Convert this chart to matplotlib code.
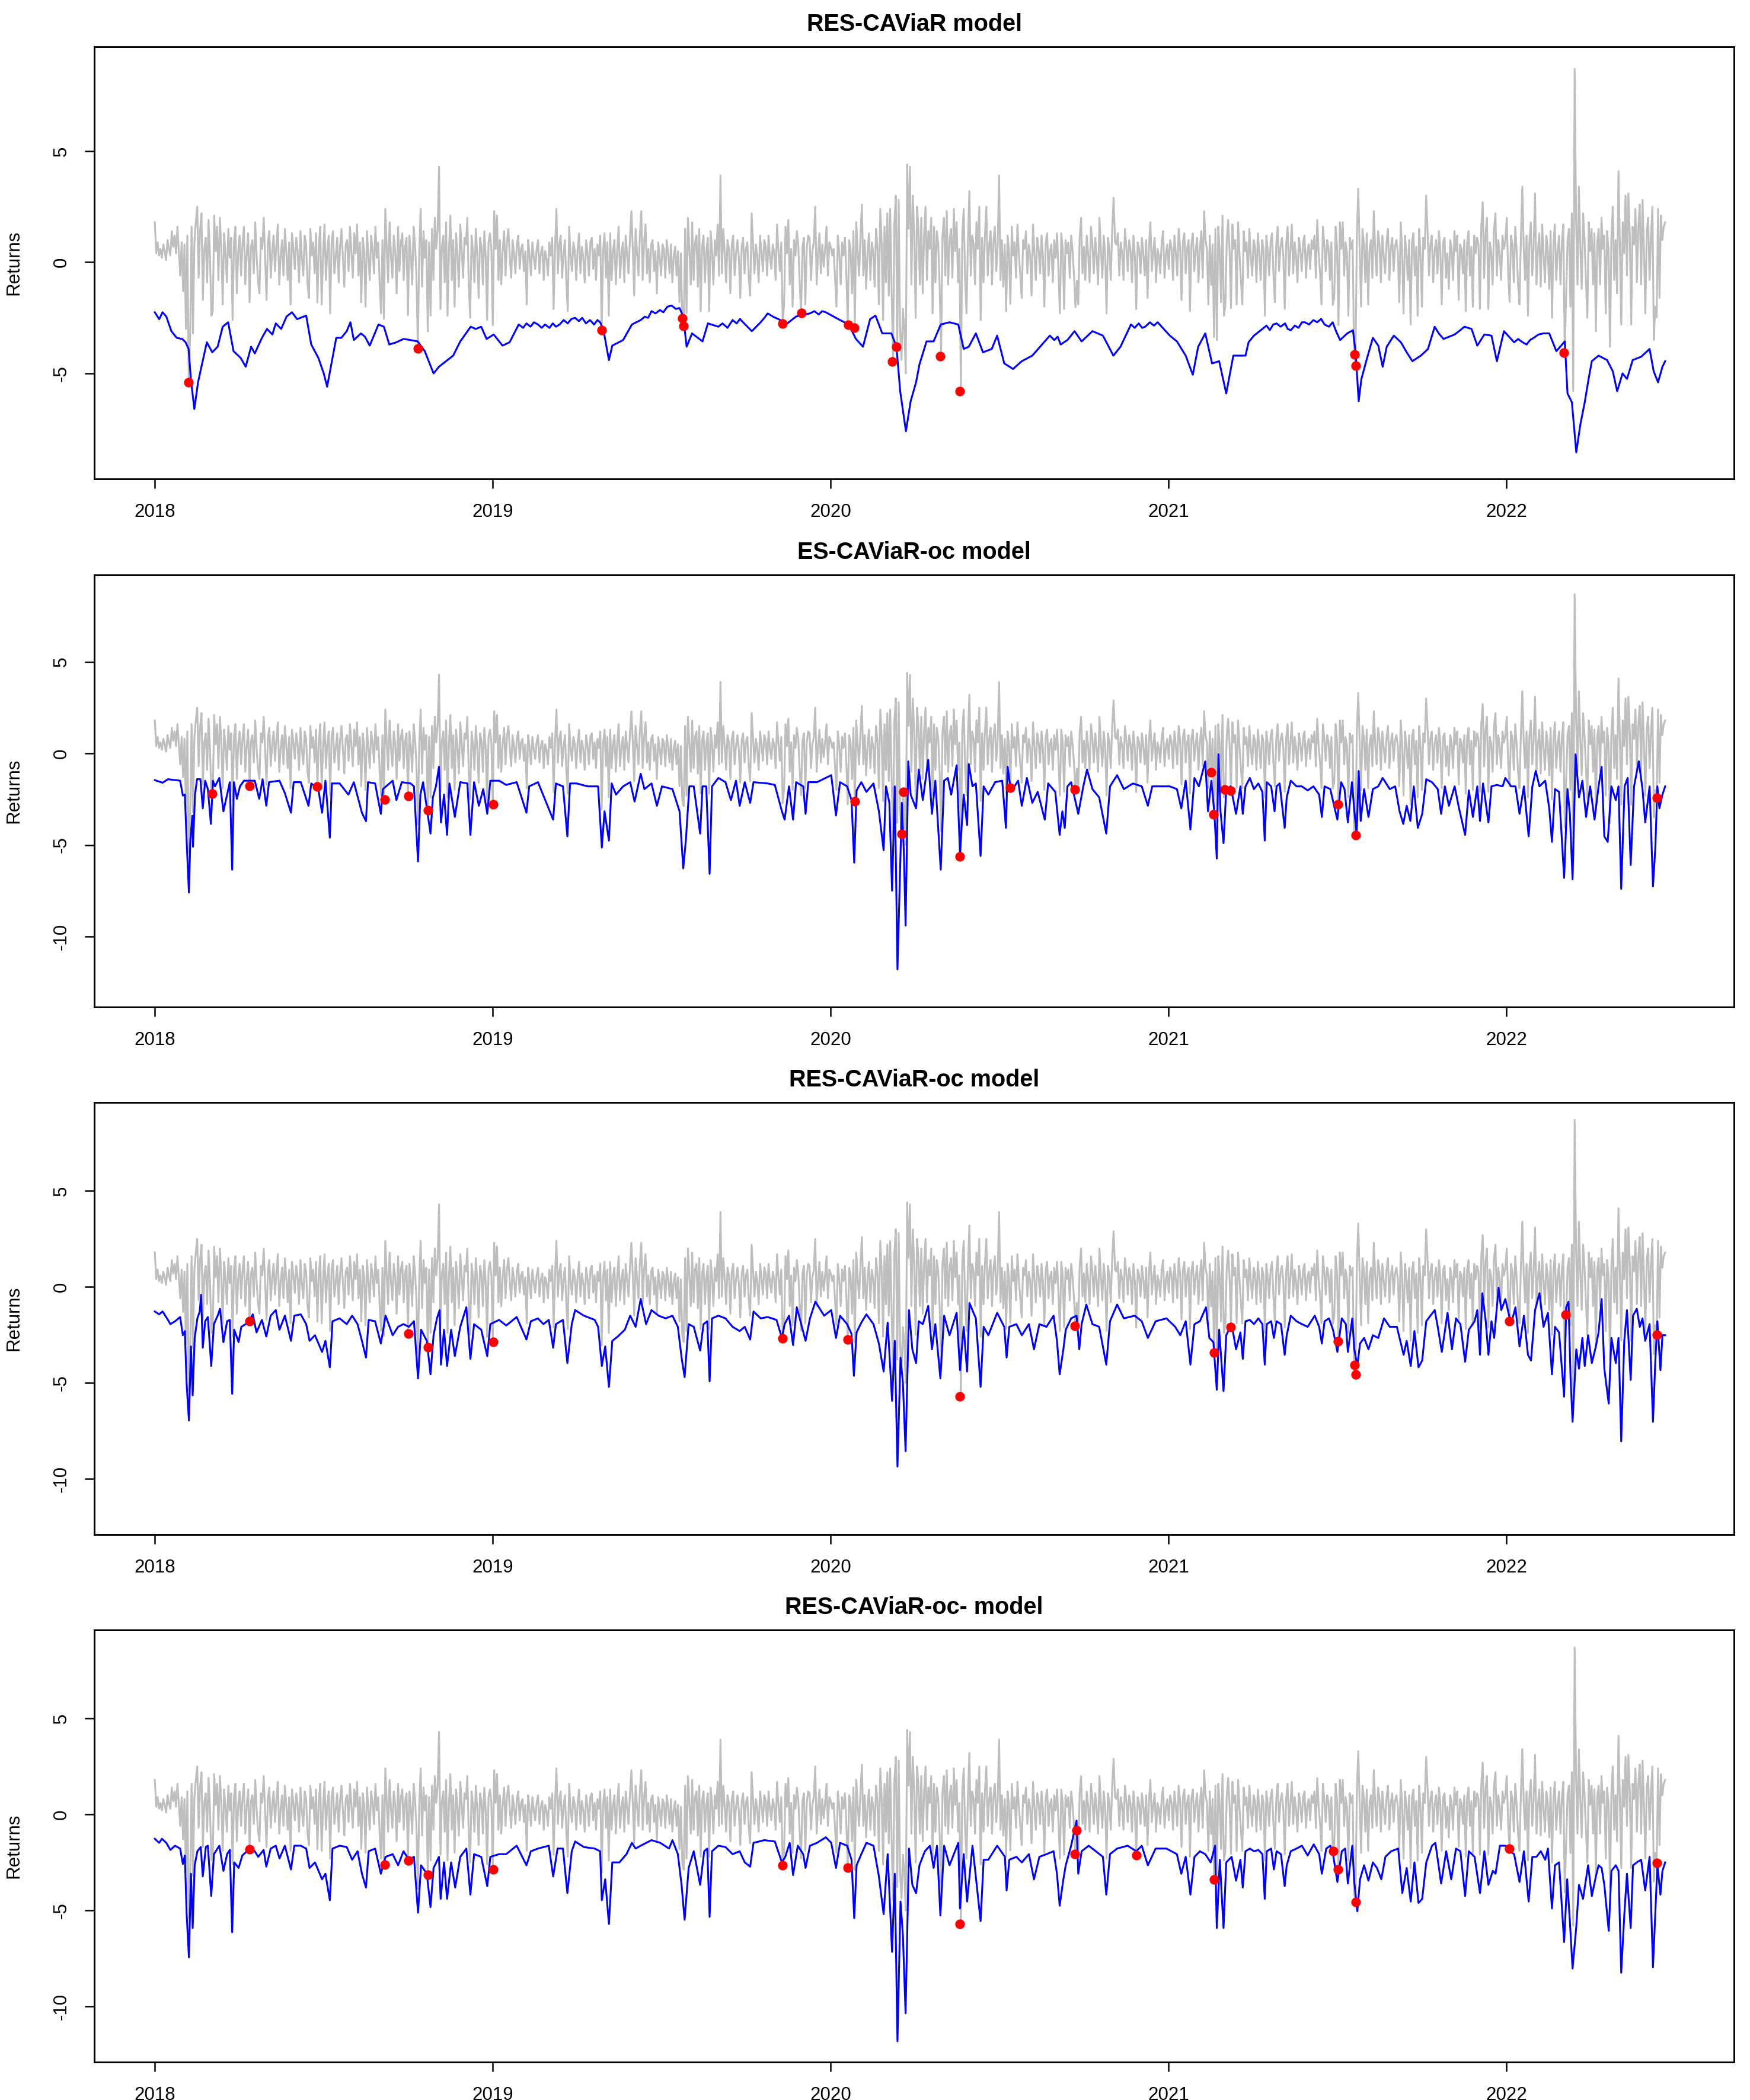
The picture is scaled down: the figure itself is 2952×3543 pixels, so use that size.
import numpy as np
import matplotlib
matplotlib.use('Agg')
import matplotlib.pyplot as plt

plt.rcParams['font.family'] = ['Liberation Sans', 'DejaVu Sans']
plt.rcParams['axes.unicode_minus'] = False

# daily returns (grey line), 2018-01-02 .. 2022-06-22
ret_2018 = [1.8, 0.4, 0.9, 0.3, 0.6, 0.2, 0.8, 0.5, 0.1, 1.0, 0.6, 0.3, 1.4, 0.7, 1.2, 0.4, 1.6, 0.5, -0.6, 0.9,
            -1.3, 0.8, -3.0, 1.2, -5.40, -3.3, 1.6, -3.2, 0.9, 1.8, 2.5, -0.7, 1.4, 2.2, -1.7, 0.6, 1.1, -0.9, 1.9, 0.3,
            -2.4, -2.20, 2.1, 0.5, 1.6, -0.8, 2.0, 0.7, -1.9, 1.3, 0.4, -0.9, 1.5, 0.2, 1.1, -2.6, 0.9, 1.6, -1.4, 0.5,
            1.2, -0.6, 0.8, 1.6, -1.0, 0.4, 1.3, -1.80, 0.7, 1.0, -0.5, 1.8, 0.3, -0.9, -1.4, 1.1, 0.6, 2.0, 0.2, -1.7,
            0.9, 1.4, -0.7, 0.5, 1.2, -0.4, 0.8, 1.7, -1.0, 0.3, 1.0, -0.6, 1.5, 0.4, -0.8, 0.9, -1.9, 1.3, 0.6, -0.3,
            1.1, 0.5, -0.9, 1.4, 0.2, -0.6, 1.2, 0.8, -1.0, -1.6, 1.5, 0.3, 0.9, -0.5, 1.3, -1.81, 0.7, 1.6, -1.9, 0.4,
            1.7, -0.8, 0.6, 1.2, -2.3, 0.9, 1.4, -0.5, 0.3, 1.1, -0.9, 0.7, 1.5, 0.2, -1.1, 0.8, 1.0, -0.4, 1.6, 0.5,
            -0.7, 1.3, 0.4, 1.7, -0.6, 0.9, -1.8, 1.1, 0.5, -2.0, 1.4, 0.3, -0.8, 1.2, 0.6, -0.5, 1.6, 0.2, 0.9, -1.0,
            -2.3, 1.0, -2.55, 2.4, 0.6, -0.9, 1.8, 0.3, -0.7, 1.2, 0.5, -1.4, 1.6, -0.4, 0.9, 1.3, -0.8, 0.7, 1.1, -2.38,
            1.2, 0.4, -1.0, 1.6, 0.8, -0.6, -3.88, 0.5, 2.4, -1.1, 1.4, 0.2, 1.0, -3.11, 0.9, -2.4, 1.5, -0.8, 2.0, 0.6,
            1.5, 4.3, -2.1, 0.7, 1.2, -0.9, 1.8, -2.4, 0.5, 2.1, -0.8, 1.0, -2.0, 1.3, 0.4, -1.1, 1.7, 0.6, -0.7, 1.1,
            0.8, 2.0, -1.0, -2.5, 1.2, 0.5, -0.9, 1.5, 0.3, -1.6, 1.1, 0.7, -1.0, 1.4, 0.2, -2.6, 0.9, 1.3, 0.6, -2.83]
ret_2019 = [2.3, 0.6, 2.1, -0.8, 1.0, -1.0, 0.5, 1.4, -0.6, 0.9, 1.5, 0.3, -0.7, 1.0, 0.4, -0.5, 0.8, 1.2, -0.3, 0.6,
            0.8, -0.4, 0.5, -1.9, 1.0, 0.3, -0.6, 0.9, 0.2, -0.3, 0.6, 1.0, -0.5, 0.4, 0.7, -0.8, 0.5, 0.2, -0.6, 0.9,
            0.3, 1.1, -2.1, 0.6, 2.4, -0.5, 0.8, 1.2, -0.7, 0.4, 1.0, -0.9, -2.2, 1.6, 0.3, -0.4, 0.9, 0.5, -0.8, 0.6,
            1.3, -0.5, 0.7, 0.2, -0.9, 1.0, 0.4, -0.6, 0.9, 1.1, -0.3, 0.6, -0.8, 0.8, 0.3, 1.2, -3.05, 0.5, 1.3, -0.7,
            0.9, -2.4, 1.3, -0.8, 0.5, 1.0, -1.0, 0.6, 1.6, -0.7, 0.4, 0.9, -0.9, 1.2, 0.3, -0.5, 1.1, 2.3, 0.6, -1.5,
            1.5, 0.4, -0.6, 1.2, 2.3, -0.8, 0.9, 1.7, -0.5, 0.6, -0.9, 0.8, 1.0, -0.4, 0.5, -1.4, 0.9, 0.3, -0.6, 0.8,
            0.6, -0.7, 1.0, 0.4, -0.5, 0.8, -0.9, 0.3, 0.7, -0.6, 0.5, -1.8, 0.4, -2.53, -2.88, 1.5, -2.3, 2.0, 0.6, -1.0,
            1.8, -0.8, 0.9, 1.2, -1.1, 1.5, -2.2, 0.7, 1.2, -0.9, 0.5, 1.1, -2.2, 1.4, 0.6, -1.0, 1.0, 0.3, 1.7, -0.6,
            3.9, -0.5, 1.5, 0.4, -0.9, 1.0, 0.6, -1.4, 0.8, 1.2, -0.6, 0.4, 1.0, 0.2, -1.6, 0.7, 1.1, -0.5, 0.6, 0.9,
            -0.7, -1.5, 2.2, 0.9, -0.5, 0.8, 0.3, -0.9, 1.2, 0.5, -0.4, 1.0, 0.7, -0.6, 1.2, 0.2, -0.3, 0.8, 0.4, -0.8,
            1.7, 0.5, -0.4, 0.9, -2.72, -1.9, 1.6, 0.4, 1.9, -1.0, 0.6, -2.0, 1.0, 0.3, 1.4, 0.8, -0.9, -2.28, 0.7, 1.1,
            -1.9, 0.6, 1.2, 1.1, -0.8, 0.5, 0.9, 2.5, -1.0, 0.4, 1.3, -0.5, 0.8, -0.2, 0.6, 1.6, -0.6, 0.9, 0.7, 0.3]
ret_2020 = [0.6, -0.7, -2.0, 1.2, 0.4, -1.0, 0.9, 0.3, 1.1, -0.5, -2.78, 1.0, 0.6, -1.4, 1.4, -2.90, 1.8, 0.5, -0.6, 1.2,
            2.6, -0.6, 1.0, -1.2, 0.5, 1.3, -0.8, 0.9, 0.4, -1.1, 1.5, 0.7, -1.9, 2.4, 0.8, -2.6, 1.6, -0.9, 2.2, -1.5,
            2.4, -1.2, -4.46, 1.8, 3.0, -3.79, 2.8, -3.0, -4.39, -2.10, -3.0, -5.0, 4.4, 1.5, 4.3, -1.0, 3.0, 1.2, -2.5, 2.5,
            1.5, -1.0, 2.0, -1.4, 1.2, 2.5, -0.8, 1.4, 0.6, 2.0, -2.3, 1.6, -0.9, 1.4, 0.8, -1.1, -4.24, 1.2, 2.0, -0.6,
            2.3, -1.0, 1.0, 1.5, -0.7, 2.4, 0.5, 1.8, -0.9, 0.6, -5.72, 1.3, 2.4, -0.8, -2.3, 1.0, 3.2, -0.6, 1.2, 0.8,
            -1.0, 1.8, 0.6, 2.5, -2.6, 1.1, -0.9, 1.2, 2.5, -0.6, 0.8, 1.4, -1.0, 0.9, 1.6, -0.4, 0.7, 3.9, -0.8, 1.0,
            -1.1, 0.8, -2.2, 1.2, 0.5, -1.87, 1.6, 0.3, 0.9, -0.7, 1.7, 0.4, -0.6, -1.6, 1.0, 0.6, 1.4, -0.5, 0.8, 0.3,
            -1.5, 1.7, 0.4, -0.8, 1.1, 0.6, -0.5, 1.2, 0.3, -2.0, 0.9, 1.3, -0.6, 0.5, 0.8, -0.9, 1.0, 0.2, 1.3, -0.4,
            -2.3, 1.3, 0.6, -2.1, 1.0, 0.4, 0.9, -0.7, 1.2, 0.5, -0.6, -2.02, -0.83, -1.9, 1.1, 2.0, -0.5, 0.7, -0.8, 1.2,
            0.4, -0.9, 1.6, 0.8, -0.5, 1.1, 0.3, -1.0, 2.0, 0.6, -0.7, 1.2, 0.4, -2.3, 1.1, 0.6, -0.8, 1.5, 2.9, 0.9,
            0.8, 1.3, -0.6, 0.9, 0.4, -0.8, 1.5, 0.7, -0.4, 1.0, 0.5, -0.9, 1.2, 0.3, -2.11, 0.9, 0.6, -0.5, 1.1, 0.4,
            -0.6, 1.0, -1.6, 0.7, 1.8, -0.4, 0.5, 1.1, -0.9, 0.6, 0.3, -0.5, 0.9, 1.4, -0.7, 0.4, 0.8, -0.3, 1.0, 0.6]
ret_2021 = [-0.8, 1.2, 0.4, -0.6, 1.5, 0.7, -1.7, 0.9, 1.3, -0.5, 0.6, 1.0, -2.2, 0.8, 1.3, -0.4, 0.5, 1.1, -0.9, 0.6,
            1.4, -0.7, 2.3, 1.0, 0.6, -1.9, 1.2, -1.02, 0.8, -3.37, 1.5, -3.5, 1.6, 0.5, -1.8, 2.1, -2.4, -1.96, 1.0, 1.9,
            0.5, -2.06, 1.7, 0.6, 1.0, -1.9, 1.8, 0.4, -0.8, -1.9, 1.4, 0.5, 0.9, -0.7, 1.5, 0.3, -0.6, 1.0, 0.7, -0.9,
            1.3, 0.4, -0.8, 1.0, 0.6, -2.4, 1.2, 0.5, -0.6, 0.9, 1.3, -0.5, -1.8, 0.8, 1.6, -0.4, 0.7, 1.1, 0.3, -2.1,
            0.8, 1.6, -0.6, 0.5, 1.7, -0.5, 0.9, 0.3, -0.9, 1.1, 0.6, -0.4, 0.9, 1.2, -0.7, 0.5, 0.8, -0.3, 1.0, 0.6,
            1.2, -0.7, 1.9, 0.4, -0.5, -1.9, 1.6, 0.8, -0.4, 1.0, 0.6, -0.8, 0.9, -1.92, -1.6, 1.6, 0.7, -2.83, 1.8, 0.6,
            1.8, -0.6, 0.9, 0.4, -2.4, 1.1, 0.6, 1.0, -4.10, -4.58, 1.2, 3.3, 0.5, -2.0, 1.5, 0.8, -0.9, 1.3, -1.9, 0.6,
            1.0, -0.7, 2.3, 0.5, -0.6, 1.4, 0.8, -0.9, 1.2, 0.3, -0.5, 0.9, 1.5, -0.8, 0.6, 1.1, -0.4, 0.7, 1.0, 0.4,
            -1.8, 1.8, 0.6, -2.3, 1.2, 0.5, -0.8, 1.0, -2.8, 0.9, 1.3, -0.6, 0.7, -2.4, 1.5, 0.4, -2.0, 1.1, 0.6, 3.0,
            1.4, -0.6, 0.8, 1.2, -0.9, 0.5, 1.0, -0.5, 1.4, 0.6, -1.9, 0.9, 1.1, -0.7, 0.4, -1.2, 1.0, 0.6, -0.8, 1.4,
            0.5, 1.2, -1.7, 0.8, 0.6, -0.5, 1.0, -2.2, 0.9, 1.4, -0.6, 0.7, -2.0, 1.2, 0.4, 1.1, 0.8, -2.1, 1.6, 2.7,
            -0.7, 1.3, 2.0, -2.1, 0.9, 0.5, -1.0, 1.5, 2.2, -0.6, 1.0, 0.4, -0.8, 1.2, 0.6, 1.0, 2.0, -0.5, -1.79, 1.2]
ret_2022 = [0.8, -0.9, 1.6, 0.5, -1.0, -1.9, 1.1, 3.4, 0.6, -0.8, 1.2, -2.4, 0.9, 1.8, -0.6, 0.7, 3.1, -1.0, 0.5, 1.3,
            -1.1, 1.7, 0.4, -0.9, 1.2, 0.6, -1.2, 1.4, -2.5, 0.8, 1.7, -0.8, 0.5, 1.2, -1.0, 0.9, 1.7, -4.06, -1.46, 1.0,
            1.5, -2.0, 2.2, -5.8, 8.7, 2.0, -1.0, 3.4, 0.8, -1.2, 2.2, 1.0, -0.8, -2.5, 1.8, 0.5, 1.5, -1.0, 1.3, -3.1,
            0.9, 1.5, -1.0, 2.0, 0.6, 1.2, -2.3, 1.4, 0.5, -3.8, 1.1, 2.5, -0.8, 1.0, -1.4, 4.1, 0.7, -2.8, 1.8, 0.4,
            3.0, -0.6, 3.1, 1.2, -2.8, 1.6, 0.8, 2.4, -0.9, 1.5, 2.6, -1.0, 2.8, 0.6, -2.3, 1.4, 2.0, -0.8, 1.2, 2.5,
            -3.5, -2.0, -2.48, 2.4, -1.6, 2.1, 1.0, 1.6, 1.8]

# VaR forecasts (decimal year, value)
var_res = [(2018.000, -2.25), (2018.013, -2.56), (2018.023, -2.25), (2018.034, -2.44), (2018.049, -3.10),
           (2018.065, -3.40), (2018.081, -3.45), (2018.091, -3.60), (2018.100, -3.90), (2018.107, -5.30),
           (2018.117, -6.60), (2018.128, -5.40), (2018.138, -4.70), (2018.154, -3.60), (2018.170, -4.05),
           (2018.186, -3.80), (2018.201, -2.90), (2018.217, -2.70), (2018.233, -4.00), (2018.254, -4.30),
           (2018.269, -4.70), (2018.285, -3.80), (2018.296, -4.10), (2018.317, -3.40), (2018.332, -3.00),
           (2018.348, -3.25), (2018.358, -2.75), (2018.374, -3.00), (2018.390, -2.44), (2018.406, -2.25),
           (2018.421, -2.56), (2018.448, -2.40), (2018.463, -3.70), (2018.484, -4.30), (2018.500, -5.00),
           (2018.510, -5.60), (2018.521, -4.70), (2018.537, -3.40), (2018.552, -3.40), (2018.568, -3.10),
           (2018.579, -2.70), (2018.589, -3.50), (2018.610, -3.20), (2018.622, -3.35), (2018.636, -3.75),
           (2018.662, -2.80), (2018.678, -2.90), (2018.694, -3.70), (2018.715, -3.60), (2018.736, -3.45),
           (2018.757, -3.50), (2018.778, -3.56), (2018.799, -4.00), (2018.825, -5.00), (2018.841, -4.70),
           (2018.862, -4.45), (2018.883, -4.20), (2018.904, -3.56), (2018.935, -2.90), (2018.950, -3.00),
           (2018.966, -2.90), (2018.982, -3.45), (2019.003, -3.25), (2019.029, -3.75), (2019.050, -3.60),
           (2019.077, -2.80), (2019.090, -2.95), (2019.100, -2.75), (2019.112, -2.90), (2019.122, -2.70),
           (2019.134, -2.80), (2019.145, -2.95), (2019.155, -2.80), (2019.168, -2.95), (2019.178, -2.75),
           (2019.187, -2.90), (2019.198, -2.80), (2019.210, -2.60), (2019.222, -2.75), (2019.233, -2.55),
           (2019.244, -2.50), (2019.255, -2.65), (2019.265, -2.50), (2019.276, -2.75), (2019.288, -2.60),
           (2019.300, -2.80), (2019.310, -2.60), (2019.318, -2.70), (2019.328, -3.06), (2019.344, -4.40),
           (2019.354, -3.75), (2019.386, -3.50), (2019.412, -2.80), (2019.438, -2.60), (2019.450, -2.45),
           (2019.460, -2.50), (2019.470, -2.20), (2019.482, -2.30), (2019.495, -2.15), (2019.505, -2.25),
           (2019.517, -2.00), (2019.530, -1.95), (2019.542, -2.10), (2019.553, -2.06), (2019.564, -2.44),
           (2019.574, -3.80), (2019.590, -3.20), (2019.621, -3.56), (2019.637, -2.75), (2019.668, -2.90),
           (2019.680, -2.75), (2019.695, -2.95), (2019.710, -2.60), (2019.722, -2.75), (2019.732, -2.55),
           (2019.741, -2.70), (2019.767, -3.10), (2019.793, -2.70), (2019.804, -2.50), (2019.814, -2.30),
           (2019.830, -2.45), (2019.846, -2.56), (2019.872, -2.75), (2019.898, -2.44), (2019.939, -2.30),
           (2019.952, -2.20), (2019.965, -2.35), (2019.975, -2.20), (2019.986, -2.25), (2020.023, -2.56),
           (2020.054, -2.80), (2020.075, -3.45), (2020.096, -3.80), (2020.117, -2.56), (2020.133, -2.40),
           (2020.153, -3.20), (2020.180, -3.20), (2020.195, -3.80), (2020.206, -5.80), (2020.223, -7.60),
           (2020.237, -6.25), (2020.253, -5.40), (2020.263, -4.60), (2020.284, -3.56), (2020.305, -3.56),
           (2020.326, -2.80), (2020.352, -2.70), (2020.378, -2.80), (2020.394, -3.90), (2020.409, -3.80),
           (2020.430, -3.20), (2020.451, -4.05), (2020.477, -3.90), (2020.493, -3.30), (2020.514, -4.55),
           (2020.540, -4.80), (2020.566, -4.45), (2020.597, -4.20), (2020.623, -3.75), (2020.649, -3.30),
           (2020.662, -3.50), (2020.672, -3.35), (2020.681, -3.70), (2020.701, -3.50), (2020.722, -3.10),
           (2020.743, -3.56), (2020.775, -3.10), (2020.806, -3.30), (2020.837, -4.20), (2020.858, -3.80),
           (2020.889, -2.80), (2020.900, -2.95), (2020.912, -2.75), (2020.922, -2.95), (2020.931, -2.90),
           (2020.945, -2.70), (2020.957, -2.85), (2020.968, -2.70), (2021.004, -3.30), (2021.025, -3.56),
           (2021.051, -4.20), (2021.072, -5.06), (2021.088, -3.80), (2021.109, -3.20), (2021.129, -4.55),
           (2021.150, -4.45), (2021.171, -5.90), (2021.192, -4.20), (2021.228, -4.20), (2021.237, -3.60),
           (2021.253, -3.30), (2021.278, -3.00), (2021.290, -2.85), (2021.300, -3.05), (2021.310, -2.80),
           (2021.320, -2.75), (2021.332, -2.90), (2021.345, -2.75), (2021.353, -3.00), (2021.362, -3.06),
           (2021.374, -2.85), (2021.385, -2.95), (2021.395, -2.70), (2021.404, -2.70), (2021.416, -2.80),
           (2021.429, -2.60), (2021.440, -2.70), (2021.452, -2.55), (2021.462, -2.80), (2021.475, -2.90),
           (2021.486, -2.70), (2021.496, -3.10), (2021.508, -3.50), (2021.529, -3.20), (2021.546, -3.06),
           (2021.554, -4.06), (2021.563, -6.25), (2021.571, -5.25), (2021.588, -4.30), (2021.605, -3.40),
           (2021.621, -3.75), (2021.634, -4.70), (2021.646, -3.80), (2021.667, -3.30), (2021.688, -3.60),
           (2021.705, -4.05), (2021.722, -4.45), (2021.747, -4.20), (2021.768, -3.90), (2021.788, -2.90),
           (2021.800, -3.20), (2021.814, -3.45), (2021.847, -3.25), (2021.860, -3.10), (2021.876, -2.90),
           (2021.897, -3.00), (2021.914, -3.75), (2021.935, -3.25), (2021.956, -3.30), (2021.972, -4.45),
           (2021.993, -3.10), (2022.023, -3.60), (2022.035, -3.45), (2022.048, -3.60), (2022.060, -3.70),
           (2022.070, -3.50), (2022.081, -3.40), (2022.095, -3.25), (2022.110, -3.20), (2022.127, -3.20),
           (2022.148, -4.00), (2022.173, -3.56), (2022.181, -5.90), (2022.194, -6.30), (2022.207, -8.55),
           (2022.219, -7.30), (2022.232, -6.30), (2022.244, -5.20), (2022.253, -4.45), (2022.273, -4.20),
           (2022.298, -4.40), (2022.315, -4.90), (2022.328, -5.80), (2022.344, -5.00), (2022.357, -5.25),
           (2022.374, -4.40), (2022.399, -4.25), (2022.424, -3.90), (2022.436, -4.90), (2022.449, -5.40),
           (2022.462, -4.70), (2022.470, -4.45)]

var_es = [(2018.000, -1.46), (2018.023, -1.60), (2018.039, -1.41), (2018.075, -1.49), (2018.083, -2.30),
          (2018.089, -2.25), (2018.094, -4.70), (2018.101, -7.60), (2018.105, -4.80), (2018.111, -3.40),
          (2018.113, -5.10), (2018.119, -2.25), (2018.125, -1.41), (2018.135, -1.41), (2018.142, -3.00),
          (2018.149, -1.49), (2018.157, -1.95), (2018.166, -3.85), (2018.172, -1.49), (2018.178, -1.80),
          (2018.191, -1.34), (2018.203, -3.16), (2018.214, -2.25), (2018.222, -1.57), (2018.229, -6.35),
          (2018.234, -1.57), (2018.243, -2.48), (2018.252, -1.80), (2018.264, -1.49), (2018.296, -1.49),
          (2018.309, -2.48), (2018.319, -1.41), (2018.330, -2.86), (2018.338, -1.57), (2018.369, -1.49),
          (2018.385, -2.17), (2018.403, -3.24), (2018.411, -1.57), (2018.432, -1.57), (2018.455, -2.86),
          (2018.463, -1.64), (2018.484, -1.95), (2018.495, -3.24), (2018.505, -1.49), (2018.518, -4.60),
          (2018.524, -1.64), (2018.547, -1.64), (2018.573, -2.25), (2018.589, -1.57), (2018.613, -3.24),
          (2018.625, -3.70), (2018.631, -1.57), (2018.652, -1.64), (2018.669, -3.30), (2018.675, -1.95),
          (2018.704, -1.49), (2018.715, -2.55), (2018.731, -1.57), (2018.757, -1.64), (2018.767, -1.80),
          (2018.779, -5.90), (2018.786, -2.25), (2018.794, -1.57), (2018.816, -4.38), (2018.823, -2.40),
          (2018.832, -1.80), (2018.841, -0.73), (2018.847, -3.77), (2018.856, -2.25), (2018.865, -4.45),
          (2018.872, -1.64), (2018.888, -3.47), (2018.904, -1.57), (2018.925, -1.64), (2018.934, -4.45),
          (2018.945, -1.57), (2018.959, -2.86), (2018.972, -1.95), (2018.984, -3.30), (2018.993, -1.49),
          (2019.019, -1.49), (2019.040, -1.72), (2019.071, -1.57), (2019.100, -3.24), (2019.108, -1.80),
          (2019.134, -1.57), (2019.179, -3.62), (2019.187, -1.64), (2019.208, -1.80), (2019.221, -4.53),
          (2019.229, -1.64), (2019.249, -1.64), (2019.281, -1.80), (2019.312, -1.80), (2019.323, -5.14),
          (2019.331, -3.16), (2019.344, -4.76), (2019.352, -1.64), (2019.365, -2.25), (2019.386, -1.80),
          (2019.407, -1.57), (2019.420, -2.63), (2019.438, -1.11), (2019.449, -1.95), (2019.470, -1.64),
          (2019.486, -2.86), (2019.501, -1.80), (2019.532, -1.95), (2019.553, -3.16), (2019.564, -6.28),
          (2019.572, -4.68), (2019.582, -1.80), (2019.595, -1.80), (2019.614, -4.38), (2019.621, -1.80),
          (2019.632, -1.80), (2019.642, -6.58), (2019.649, -1.80), (2019.668, -1.34), (2019.689, -1.57),
          (2019.705, -2.55), (2019.720, -1.49), (2019.731, -2.86), (2019.746, -1.57), (2019.762, -2.70),
          (2019.772, -1.57), (2019.814, -1.64), (2019.835, -1.72), (2019.856, -3.16), (2019.864, -3.62),
          (2019.877, -1.80), (2019.889, -3.62), (2019.898, -1.57), (2019.919, -1.80), (2019.926, -3.30),
          (2019.934, -1.57), (2019.960, -1.57), (2020.002, -1.19), (2020.016, -3.39), (2020.028, -1.57),
          (2020.049, -1.80), (2020.062, -2.55), (2020.070, -5.97), (2020.077, -2.02), (2020.091, -1.57),
          (2020.106, -2.10), (2020.127, -1.64), (2020.143, -3.16), (2020.157, -5.29), (2020.164, -1.80),
          (2020.174, -2.70), (2020.182, -7.50), (2020.190, -1.80), (2020.198, -11.80), (2020.205, -6.96),
          (2020.211, -2.70), (2020.217, -5.44), (2020.222, -9.40), (2020.230, -0.43), (2020.237, -2.25),
          (2020.253, -3.00), (2020.261, -0.88), (2020.273, -2.55), (2020.289, -0.35), (2020.300, -3.30),
          (2020.310, -1.49), (2020.326, -6.35), (2020.336, -1.49), (2020.347, -1.34), (2020.357, -2.25),
          (2020.373, -0.65), (2020.383, -5.44), (2020.394, -2.25), (2020.404, -3.92), (2020.409, -0.58),
          (2020.420, -1.80), (2020.430, -1.64), (2020.444, -5.60), (2020.453, -1.80), (2020.467, -2.25),
          (2020.487, -1.57), (2020.508, -1.49), (2020.519, -4.07), (2020.524, -0.73), (2020.534, -2.10),
          (2020.555, -1.49), (2020.566, -2.86), (2020.581, -1.34), (2020.597, -2.70), (2020.613, -2.10),
          (2020.634, -3.62), (2020.644, -1.64), (2020.665, -2.10), (2020.678, -4.45), (2020.686, -3.16),
          (2020.693, -4.07), (2020.701, -1.80), (2020.712, -1.57), (2020.733, -3.30), (2020.748, -1.80),
          (2020.759, -0.88), (2020.775, -1.95), (2020.795, -2.40), (2020.816, -4.38), (2020.827, -1.80),
          (2020.848, -1.19), (2020.868, -1.95), (2020.895, -1.64), (2020.921, -1.80), (2020.939, -2.86),
          (2020.952, -1.80), (2021.004, -1.80), (2021.025, -1.95), (2021.038, -3.00), (2021.051, -1.49),
          (2021.065, -4.15), (2021.077, -1.34), (2021.090, -1.80), (2021.109, -0.43), (2021.117, -3.16),
          (2021.127, -1.49), (2021.136, -3.30), (2021.143, -5.74), (2021.148, -0.05), (2021.154, -3.16),
          (2021.163, -4.90), (2021.171, -1.95), (2021.184, -1.80), (2021.200, -3.30), (2021.213, -1.80),
          (2021.220, -3.30), (2021.228, -1.80), (2021.241, -1.34), (2021.253, -1.95), (2021.266, -1.64),
          (2021.278, -2.10), (2021.285, -4.76), (2021.291, -1.57), (2021.304, -1.80), (2021.314, -3.16),
          (2021.320, -1.80), (2021.329, -1.64), (2021.344, -4.07), (2021.350, -2.40), (2021.362, -1.49),
          (2021.379, -1.80), (2021.395, -1.80), (2021.412, -2.02), (2021.429, -1.80), (2021.446, -2.25),
          (2021.454, -3.47), (2021.462, -1.80), (2021.479, -1.95), (2021.492, -3.00), (2021.500, -3.62),
          (2021.511, -1.57), (2021.521, -1.95), (2021.531, -3.77), (2021.543, -1.57), (2021.551, -3.30),
          (2021.557, -4.38), (2021.563, -0.96), (2021.569, -3.69), (2021.579, -1.95), (2021.592, -3.47),
          (2021.605, -1.95), (2021.621, -1.80), (2021.634, -1.34), (2021.655, -1.95), (2021.671, -1.80),
          (2021.684, -3.16), (2021.695, -3.85), (2021.705, -2.86), (2021.716, -3.69), (2021.726, -1.80),
          (2021.738, -4.07), (2021.751, -3.30), (2021.763, -1.41), (2021.780, -1.57), (2021.797, -1.95),
          (2021.807, -3.30), (2021.818, -1.80), (2021.830, -2.86), (2021.847, -1.80), (2021.860, -3.00),
          (2021.878, -4.45), (2021.889, -2.02), (2021.901, -3.47), (2021.914, -1.80), (2021.922, -3.69),
          (2021.931, -1.64), (2021.947, -3.77), (2021.956, -1.80), (2021.972, -1.72), (2021.989, -1.80),
          (2021.997, -1.34), (2022.014, -1.80), (2022.027, -1.80), (2022.039, -3.30), (2022.052, -1.80),
          (2022.066, -4.53), (2022.077, -1.80), (2022.087, -0.96), (2022.098, -1.80), (2022.115, -1.49),
          (2022.127, -3.00), (2022.135, -4.83), (2022.144, -1.95), (2022.156, -2.10), (2022.171, -6.80),
          (2022.181, -1.95), (2022.188, -3.30), (2022.196, -6.88), (2022.205, -0.05), (2022.215, -2.40),
          (2022.225, -1.49), (2022.236, -3.47), (2022.248, -1.80), (2022.261, -3.62), (2022.273, -1.80),
          (2022.282, -0.73), (2022.290, -4.53), (2022.300, -4.83), (2022.311, -1.80), (2022.324, -2.55),
          (2022.332, -1.80), (2022.340, -7.40), (2022.350, -1.80), (2022.359, -1.34), (2022.368, -6.10),
          (2022.378, -1.80), (2022.392, -0.43), (2022.403, -1.95), (2022.411, -3.77), (2022.424, -1.80),
          (2022.434, -7.26), (2022.441, -5.14), (2022.447, -1.80), (2022.453, -3.00), (2022.462, -2.25),
          (2022.470, -1.80)]

var_oc = [(2018.000, -1.28), (2018.013, -1.43), (2018.023, -1.28), (2018.039, -1.72), (2018.046, -1.94),
          (2018.060, -1.79), (2018.075, -1.57), (2018.083, -2.52), (2018.089, -2.30), (2018.094, -5.00),
          (2018.101, -6.96), (2018.107, -3.10), (2018.112, -5.65), (2018.118, -2.66), (2018.126, -1.64),
          (2018.133, -1.28), (2018.137, -0.41), (2018.142, -3.17), (2018.149, -1.79), (2018.157, -1.57),
          (2018.167, -4.12), (2018.175, -1.94), (2018.186, -1.50), (2018.193, -1.14), (2018.203, -2.88),
          (2018.214, -1.79), (2018.222, -1.72), (2018.229, -5.57), (2018.235, -2.23), (2018.248, -2.88),
          (2018.256, -2.08), (2018.269, -1.94), (2018.281, -1.72), (2018.290, -1.43), (2018.301, -2.37),
          (2018.317, -1.72), (2018.330, -2.59), (2018.343, -1.50), (2018.358, -1.21), (2018.369, -2.23),
          (2018.385, -1.50), (2018.403, -2.81), (2018.413, -1.50), (2018.432, -1.43), (2018.448, -1.94),
          (2018.458, -2.81), (2018.474, -2.52), (2018.495, -3.39), (2018.505, -2.81), (2018.518, -4.19),
          (2018.526, -1.79), (2018.547, -1.64), (2018.568, -1.94), (2018.584, -1.50), (2018.600, -1.94),
          (2018.613, -2.81), (2018.625, -3.68), (2018.633, -1.72), (2018.652, -1.79), (2018.669, -2.95),
          (2018.683, -1.50), (2018.704, -2.52), (2018.720, -2.08), (2018.736, -1.94), (2018.752, -2.08),
          (2018.767, -1.79), (2018.779, -4.77), (2018.788, -2.23), (2018.805, -2.81), (2018.816, -4.56),
          (2018.825, -2.52), (2018.835, -1.64), (2018.843, -1.21), (2018.847, -4.05), (2018.856, -2.23),
          (2018.865, -4.12), (2018.877, -2.23), (2018.888, -3.61), (2018.904, -2.08), (2018.922, -1.06),
          (2018.934, -3.75), (2018.945, -1.94), (2018.966, -2.23), (2018.984, -3.61), (2018.993, -1.94),
          (2019.019, -1.72), (2019.040, -2.01), (2019.071, -1.57), (2019.100, -2.74), (2019.113, -1.79),
          (2019.134, -1.64), (2019.150, -1.94), (2019.166, -1.72), (2019.179, -3.17), (2019.187, -1.94),
          (2019.208, -1.72), (2019.221, -3.97), (2019.234, -1.94), (2019.244, -1.21), (2019.270, -1.50),
          (2019.302, -1.72), (2019.312, -2.08), (2019.323, -4.12), (2019.333, -3.10), (2019.344, -5.21),
          (2019.354, -2.81), (2019.370, -2.59), (2019.391, -2.23), (2019.407, -1.50), (2019.423, -2.08),
          (2019.438, -0.63), (2019.454, -1.94), (2019.470, -1.21), (2019.491, -1.50), (2019.512, -1.64),
          (2019.532, -1.50), (2019.548, -2.08), (2019.559, -3.68), (2019.568, -4.70), (2019.580, -1.94),
          (2019.595, -2.08), (2019.614, -3.32), (2019.624, -1.94), (2019.635, -1.79), (2019.642, -4.92),
          (2019.649, -1.64), (2019.668, -1.50), (2019.689, -1.64), (2019.710, -2.08), (2019.731, -2.30),
          (2019.746, -2.08), (2019.762, -2.74), (2019.772, -1.28), (2019.793, -1.64), (2019.814, -1.57),
          (2019.840, -1.72), (2019.856, -2.66), (2019.864, -1.94), (2019.877, -1.50), (2019.889, -3.03),
          (2019.900, -1.06), (2019.913, -1.94), (2019.926, -2.81), (2019.939, -1.64), (2019.955, -0.77),
          (2019.981, -1.50), (2020.002, -1.21), (2020.016, -2.66), (2020.028, -1.50), (2020.049, -1.94),
          (2020.062, -2.45), (2020.069, -4.63), (2020.077, -2.37), (2020.091, -1.86), (2020.106, -1.43),
          (2020.127, -1.94), (2020.143, -2.95), (2020.157, -4.41), (2020.169, -1.86), (2020.182, -5.94),
          (2020.190, -2.81), (2020.198, -9.36), (2020.207, -3.68), (2020.214, -4.99), (2020.222, -8.56),
          (2020.232, -1.21), (2020.242, -3.25), (2020.253, -3.97), (2020.261, -1.79), (2020.273, -1.94),
          (2020.289, -0.99), (2020.300, -3.25), (2020.310, -1.94), (2020.325, -4.77), (2020.336, -1.50),
          (2020.352, -2.52), (2020.373, -1.35), (2020.383, -4.34), (2020.394, -2.08), (2020.404, -4.41),
          (2020.411, -0.84), (2020.430, -1.64), (2020.444, -5.21), (2020.453, -2.08), (2020.467, -2.52),
          (2020.493, -1.35), (2020.514, -2.08), (2020.521, -3.68), (2020.529, -2.08), (2020.550, -1.94),
          (2020.566, -2.52), (2020.587, -1.94), (2020.602, -3.25), (2020.618, -1.94), (2020.639, -2.08),
          (2020.660, -1.50), (2020.670, -2.81), (2020.678, -4.56), (2020.689, -3.25), (2020.696, -2.23),
          (2020.712, -1.64), (2020.728, -1.50), (2020.736, -3.25), (2020.743, -1.94), (2020.757, -0.92),
          (2020.775, -1.94), (2020.795, -2.08), (2020.816, -4.05), (2020.827, -1.79), (2020.848, -0.92),
          (2020.868, -1.64), (2020.900, -1.50), (2020.921, -1.79), (2020.939, -2.66), (2020.962, -1.79),
          (2020.994, -1.64), (2021.020, -2.08), (2021.035, -2.52), (2021.051, -1.79), (2021.065, -4.05),
          (2021.077, -1.94), (2021.093, -1.79), (2021.111, -1.06), (2021.121, -2.66), (2021.133, -2.88),
          (2021.143, -5.36), (2021.150, -2.23), (2021.163, -5.43), (2021.171, -2.52), (2021.187, -1.94),
          (2021.200, -3.25), (2021.213, -2.37), (2021.220, -3.75), (2021.228, -1.79), (2021.241, -1.72),
          (2021.253, -1.94), (2021.266, -1.64), (2021.278, -1.94), (2021.285, -4.05), (2021.291, -1.94),
          (2021.304, -1.79), (2021.312, -2.66), (2021.320, -1.79), (2021.333, -1.94), (2021.344, -3.54),
          (2021.350, -2.52), (2021.362, -1.50), (2021.379, -1.79), (2021.395, -1.94), (2021.412, -2.08),
          (2021.433, -1.50), (2021.446, -2.08), (2021.454, -2.95), (2021.462, -1.79), (2021.475, -1.64),
          (2021.487, -2.23), (2021.500, -3.39), (2021.513, -1.64), (2021.525, -1.94), (2021.531, -3.39),
          (2021.544, -1.64), (2021.550, -3.25), (2021.559, -4.12), (2021.567, -2.95), (2021.579, -2.66),
          (2021.592, -3.25), (2021.605, -2.52), (2021.621, -2.66), (2021.638, -1.64), (2021.655, -2.08),
          (2021.676, -2.08), (2021.688, -2.95), (2021.696, -3.54), (2021.705, -2.81), (2021.717, -4.12),
          (2021.728, -2.30), (2021.740, -4.19), (2021.751, -3.83), (2021.763, -1.79), (2021.788, -1.21),
          (2021.797, -2.08), (2021.809, -3.39), (2021.826, -1.35), (2021.839, -3.25), (2021.851, -1.64),
          (2021.864, -1.94), (2021.878, -3.90), (2021.889, -2.23), (2021.906, -1.79), (2021.914, -1.21),
          (2021.922, -3.54), (2021.929, -0.33), (2021.939, -1.79), (2021.947, -3.54), (2021.956, -1.79),
          (2021.964, -2.66), (2021.977, -0.04), (2021.985, -1.21), (2021.997, -0.63), (2022.014, -1.94),
          (2022.027, -1.06), (2022.039, -3.10), (2022.052, -1.50), (2022.064, -3.54), (2022.073, -3.83),
          (2022.085, -1.21), (2022.098, -0.33), (2022.110, -2.08), (2022.123, -1.35), (2022.135, -4.56),
          (2022.144, -2.08), (2022.156, -2.37), (2022.171, -5.72), (2022.177, -1.06), (2022.184, -0.77),
          (2022.190, -4.70), (2022.196, -7.03), (2022.207, -3.25), (2022.215, -4.26), (2022.225, -2.66),
          (2022.232, -4.12), (2022.242, -2.52), (2022.253, -3.97), (2022.265, -3.10), (2022.273, -2.37),
          (2022.282, -0.63), (2022.290, -4.26), (2022.303, -6.08), (2022.311, -2.66), (2022.324, -3.97),
          (2022.332, -2.66), (2022.340, -8.05), (2022.349, -2.81), (2022.357, -1.21), (2022.368, -4.85),
          (2022.375, -1.50), (2022.386, -1.14), (2022.395, -2.08), (2022.403, -1.64), (2022.411, -2.81),
          (2022.424, -1.94), (2022.434, -7.03), (2022.441, -3.83), (2022.447, -1.79), (2022.456, -4.34),
          (2022.462, -2.52), (2022.470, -2.52)]

var_ocm = [(2018.000, -1.27), (2018.013, -1.48), (2018.021, -1.27), (2018.034, -1.48), (2018.046, -1.85),
           (2018.060, -1.63), (2018.075, -1.78), (2018.083, -2.58), (2018.089, -2.14), (2018.094, -5.12),
           (2018.101, -7.45), (2018.107, -3.09), (2018.112, -5.92), (2018.118, -2.65), (2018.126, -1.92),
           (2018.136, -1.70), (2018.142, -3.23), (2018.151, -1.70), (2018.157, -1.63), (2018.167, -4.25),
           (2018.175, -2.07), (2018.191, -1.63), (2018.203, -2.94), (2018.214, -2.07), (2018.222, -1.85),
           (2018.229, -6.14), (2018.235, -2.50), (2018.248, -2.79), (2018.259, -2.14), (2018.281, -1.78),
           (2018.296, -1.92), (2018.306, -2.21), (2018.322, -1.85), (2018.330, -2.72), (2018.343, -1.78),
           (2018.358, -1.63), (2018.369, -2.29), (2018.385, -1.63), (2018.403, -2.87), (2018.413, -1.63),
           (2018.432, -1.63), (2018.448, -1.78), (2018.458, -2.79), (2018.474, -2.50), (2018.495, -3.38),
           (2018.505, -3.09), (2018.518, -4.47), (2018.526, -1.78), (2018.547, -1.63), (2018.568, -1.70),
           (2018.584, -2.36), (2018.600, -1.92), (2018.613, -3.09), (2018.625, -3.81), (2018.633, -1.92),
           (2018.652, -1.78), (2018.669, -3.09), (2018.683, -2.21), (2018.704, -2.07), (2018.720, -2.65),
           (2018.736, -1.92), (2018.752, -2.36), (2018.767, -2.21), (2018.779, -5.12), (2018.788, -2.65),
           (2018.805, -3.09), (2018.816, -4.83), (2018.825, -2.79), (2018.841, -2.21), (2018.846, -4.40),
           (2018.856, -2.50), (2018.865, -4.40), (2018.877, -2.50), (2018.889, -3.81), (2018.904, -2.21),
           (2018.922, -1.78), (2018.934, -4.18), (2018.945, -2.07), (2018.966, -2.21), (2018.984, -3.74),
           (2018.993, -2.21), (2019.019, -2.07), (2019.040, -2.07), (2019.071, -1.63), (2019.100, -2.65),
           (2019.113, -1.92), (2019.134, -1.78), (2019.166, -1.63), (2019.179, -3.23), (2019.192, -1.78),
           (2019.208, -1.78), (2019.221, -4.10), (2019.234, -1.92), (2019.244, -1.41), (2019.270, -1.70),
           (2019.302, -1.78), (2019.318, -1.92), (2019.323, -4.47), (2019.333, -3.38), (2019.344, -5.71),
           (2019.354, -2.50), (2019.375, -2.50), (2019.396, -2.07), (2019.412, -1.48), (2019.423, -1.78),
           (2019.438, -1.63), (2019.470, -1.34), (2019.496, -1.48), (2019.522, -1.78), (2019.532, -1.34),
           (2019.548, -2.07), (2019.559, -3.67), (2019.568, -5.49), (2019.580, -2.79), (2019.595, -1.92),
           (2019.614, -3.67), (2019.626, -1.92), (2019.635, -1.78), (2019.642, -5.34), (2019.649, -1.92),
           (2019.668, -1.63), (2019.689, -1.70), (2019.710, -2.07), (2019.731, -1.92), (2019.746, -2.50),
           (2019.762, -2.72), (2019.772, -1.48), (2019.804, -1.34), (2019.835, -1.41), (2019.856, -2.50),
           (2019.866, -2.21), (2019.879, -1.48), (2019.889, -3.16), (2019.903, -1.63), (2019.919, -2.07),
           (2019.926, -2.79), (2019.939, -1.63), (2019.960, -1.48), (2019.986, -1.19), (2020.002, -1.48),
           (2020.016, -2.79), (2020.028, -1.48), (2020.049, -1.63), (2020.062, -2.36), (2020.070, -5.41),
           (2020.077, -2.65), (2020.091, -2.07), (2020.106, -1.48), (2020.127, -1.63), (2020.143, -3.23),
           (2020.157, -5.20), (2020.169, -2.07), (2020.182, -7.16), (2020.190, -3.09), (2020.198, -11.82),
           (2020.207, -4.54), (2020.214, -6.29), (2020.222, -10.36), (2020.232, -1.78), (2020.242, -3.67),
           (2020.253, -4.10), (2020.263, -2.65), (2020.279, -1.92), (2020.294, -1.63), (2020.305, -2.79),
           (2020.315, -1.63), (2020.325, -5.27), (2020.336, -1.63), (2020.352, -2.65), (2020.378, -1.48),
           (2020.383, -4.90), (2020.394, -2.07), (2020.404, -4.54), (2020.420, -1.63), (2020.444, -5.56),
           (2020.453, -2.36), (2020.467, -2.36), (2020.493, -1.63), (2020.516, -2.21), (2020.521, -3.96),
           (2020.529, -2.36), (2020.550, -2.21), (2020.566, -2.50), (2020.587, -2.07), (2020.602, -3.38),
           (2020.618, -2.21), (2020.639, -2.07), (2020.660, -1.92), (2020.670, -3.09), (2020.678, -4.76),
           (2020.689, -3.38), (2020.696, -2.65), (2020.712, -1.63), (2020.728, -0.32), (2020.733, -3.09),
           (2020.743, -1.92), (2020.764, -1.63), (2020.785, -1.92), (2020.806, -2.21), (2020.816, -4.18),
           (2020.827, -2.07), (2020.848, -1.78), (2020.879, -1.63), (2020.905, -1.92), (2020.921, -1.63),
           (2020.939, -2.65), (2020.962, -1.78), (2020.994, -1.78), (2021.025, -2.07), (2021.038, -3.09),
           (2021.051, -2.21), (2021.065, -4.18), (2021.077, -2.21), (2021.093, -1.92), (2021.109, -2.07),
           (2021.125, -2.50), (2021.138, -1.63), (2021.143, -5.92), (2021.152, -2.36), (2021.163, -5.92),
           (2021.171, -2.50), (2021.187, -2.21), (2021.200, -3.45), (2021.213, -2.36), (2021.220, -3.81),
           (2021.228, -1.92), (2021.241, -1.78), (2021.253, -1.92), (2021.266, -1.85), (2021.278, -2.07),
           (2021.285, -4.40), (2021.291, -1.92), (2021.304, -1.78), (2021.312, -2.87), (2021.320, -1.92),
           (2021.333, -2.07), (2021.344, -3.74), (2021.350, -2.65), (2021.362, -1.92), (2021.379, -1.78),
           (2021.395, -1.63), (2021.412, -2.14), (2021.430, -1.56), (2021.446, -2.07), (2021.454, -3.09),
           (2021.467, -1.78), (2021.479, -1.63), (2021.487, -2.07), (2021.500, -3.52), (2021.513, -1.92),
           (2021.523, -1.78), (2021.531, -3.60), (2021.544, -1.63), (2021.550, -3.52), (2021.559, -5.05),
           (2021.567, -3.38), (2021.579, -2.65), (2021.592, -3.45), (2021.605, -2.50), (2021.617, -2.79),
           (2021.630, -3.38), (2021.642, -2.21), (2021.659, -1.92), (2021.680, -1.78), (2021.692, -4.10),
           (2021.705, -2.79), (2021.717, -4.54), (2021.728, -2.50), (2021.740, -4.61), (2021.751, -4.40),
           (2021.763, -2.50), (2021.780, -1.63), (2021.790, -1.48), (2021.807, -3.60), (2021.822, -1.92),
           (2021.837, -3.38), (2021.851, -1.78), (2021.864, -1.92), (2021.878, -4.25), (2021.889, -1.92),
           (2021.906, -2.21), (2021.922, -4.10), (2021.935, -1.92), (2021.947, -3.67), (2021.960, -2.94),
           (2021.968, -3.09), (2021.981, -1.63), (2021.997, -1.63), (2022.010, -1.92), (2022.023, -2.07),
           (2022.039, -3.52), (2022.052, -1.92), (2022.066, -4.54), (2022.077, -2.21), (2022.089, -2.21),
           (2022.102, -1.92), (2022.115, -2.36), (2022.123, -1.78), (2022.135, -4.90), (2022.144, -2.65),
           (2022.156, -2.50), (2022.171, -6.65), (2022.180, -3.38), (2022.188, -5.56), (2022.196, -8.03),
           (2022.207, -5.85), (2022.215, -3.67), (2022.227, -4.40), (2022.242, -2.65), (2022.253, -4.25),
           (2022.265, -3.23), (2022.273, -2.65), (2022.282, -2.79), (2022.290, -3.67), (2022.303, -6.07),
           (2022.311, -2.94), (2022.324, -2.65), (2022.332, -2.94), (2022.340, -8.25), (2022.349, -5.27),
           (2022.357, -3.09), (2022.368, -5.92), (2022.375, -2.65), (2022.386, -2.50), (2022.399, -2.36),
           (2022.411, -3.96), (2022.424, -2.21), (2022.434, -7.96), (2022.441, -5.12), (2022.447, -2.65),
           (2022.456, -4.18), (2022.462, -2.94), (2022.470, -2.50)]

# VaR violations (returns below the forecast)
hit_res = [(2018.100, -5.40), (2018.778, -3.88), (2019.322, -3.05), (2019.561, -2.53), (2019.564, -2.88),
           (2019.857, -2.75), (2019.914, -2.28), (2020.052, -2.81), (2020.070, -2.96), (2020.183, -4.46),
           (2020.195, -3.79), (2020.325, -4.24), (2020.383, -5.79), (2021.551, -4.16), (2021.554, -4.65),
           (2022.171, -4.06)]
hit_es = [(2018.170, -2.20), (2018.281, -1.78), (2018.481, -1.81), (2018.680, -2.52), (2018.751, -2.33),
          (2018.808, -3.09), (2019.001, -2.78), (2020.072, -2.63), (2020.210, -4.39), (2020.215, -2.10),
          (2020.382, -5.64), (2020.531, -1.87), (2020.722, -1.96), (2021.126, -1.02), (2021.134, -3.33),
          (2021.166, -1.96), (2021.185, -2.04), (2021.502, -2.78), (2021.554, -4.48), (2022.446, -2.42)]
hit_oc = [(2018.281, -1.80), (2018.751, -2.42), (2018.808, -3.14), (2019.001, -2.88), (2019.857, -2.68),
          (2020.051, -2.75), (2020.382, -5.71), (2020.723, -2.04), (2021.135, -3.41), (2021.184, -2.10),
          (2021.502, -2.84), (2021.551, -4.06), (2021.554, -4.57), (2022.008, -1.79), (2022.176, -1.46),
          (2022.446, -2.50)]
hit_ocm = [(2018.281, -1.82), (2018.680, -2.61), (2018.751, -2.39), (2018.808, -3.13), (2019.001, -2.87),
           (2019.857, -2.66), (2020.051, -2.77), (2020.382, -5.71), (2020.728, -0.83), (2020.723, -2.05),
           (2020.906, -2.11), (2021.135, -3.39), (2021.487, -1.92), (2021.502, -2.87), (2021.554, -4.56),
           (2022.009, -1.79), (2022.446, -2.52)]

titles = ['RES-CAViaR model', 'ES-CAViaR-oc model', 'RES-CAViaR-oc model', 'RES-CAViaR-oc- model']
year_ticks = [2018, 2019, 2020, 2021, 2022]
ylims = [(-9.75, 9.69), (-13.85, 9.76), (-12.9, 9.62), (-12.9, 9.62)]
yticks = [[-5, 0, 5], [-10, -5, 0, 5], [-10, -5, 0, 5], [-10, -5, 0, 5]]

returns = np.array(ret_2018 + ret_2019 + ret_2020 + ret_2021 + ret_2022)
t_ret = np.linspace(2018.0, 2022.47, len(returns))

fig = plt.figure(figsize=(2952 / 300, 3543 / 300), dpi=300)
bottoms = [0.7719, 0.5205, 0.2693, 0.0181]
left, width, height = 0.0539, 0.9370, 0.2058

for i, (var, hits) in enumerate([(var_res, hit_res), (var_es, hit_es), (var_oc, hit_oc), (var_ocm, hit_ocm)]):
    ax = fig.add_axes([left, bottoms[i], width, height])
    ax.plot(t_ret, returns, color='#BEBEBE', lw=0.75)
    vt, vv = zip(*var)
    ax.plot(vt, vv, color='#0000FF', lw=0.75)
    ht, hv = zip(*hits)
    ax.plot(ht, hv, 'o', color='#FF0000', ms=3.9, mec='none')

    ax.set_xlim(2017.821, 2022.674)
    ax.set_ylim(*ylims[i])
    ax.set_xticks(year_ticks)
    ax.set_xticklabels([str(y) for y in year_ticks])
    ax.set_yticks(yticks[i])
    ax.set_yticklabels([str(v) for v in yticks[i]], rotation=90, va='center')
    ax.tick_params(direction='out', length=3.8, width=0.6, labelsize=7.5, pad=6)
    for s in ax.spines.values():
        s.set_linewidth(0.7)
    ax.text(0.5, 1 + 38 / 729, titles[i], transform=ax.transAxes,
            ha='center', va='center', fontsize=9.5, fontweight='bold')
    fig.text(23 / 2952, bottoms[i] + height / 2, 'Returns', rotation=90,
             ha='center', va='center', fontsize=7.5)

fig.savefig('out.png', dpi=300)
